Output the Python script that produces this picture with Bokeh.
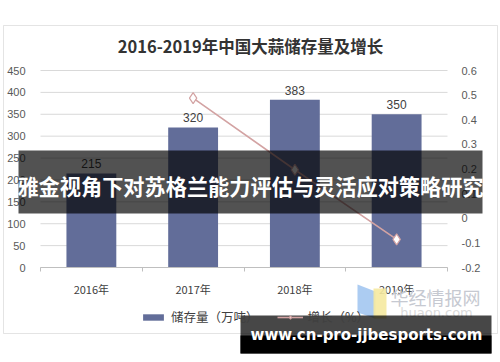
from bokeh.plotting import figure
from bokeh.models import (Range1d, LinearAxis, FixedTicker, Label, BoxAnnotation,
                          PolyAnnotation, Legend, LegendItem, ColumnDataSource)
from bokeh.embed import file_html
from bokeh.resources import INLINE

# ---- data ----
years = ["2016年", "2017年", "2018年", "2019年"]
storage = [215, 320, 383, 350]          # 储存量（万吨）
growth_years = ["2017年", "2018年", "2019年"]
growth = [0.488, 0.197, -0.086]         # 增长（%）
left_ticks = [0, 50, 100, 150, 200, 250, 300, 350, 400, 450]
right_ticks = [-0.2, -0.1, 0, 0.1, 0.2, 0.3, 0.4, 0.5, 0.6]
title_text = "2016-2019年中国大蒜储存量及增长"
banner_text = "雅金视角下对苏格兰能力评估与灵活应对策略研究"
watermark_text = "www.cn-pro-jjbesports.com"

xpos = [i + 0.5 for i in range(len(years))]
gpos = [years.index(y) + 0.5 for y in growth_years]

BAR = "#626d99"
LINE = "#d3a3a3"
TXT = "#595959"

W, H = 500, 362
# plot area in canvas pixels (top-left origin)
PL, PR, PT, PB = 40, 447, 70, 267
nx = len(years)
ymin, ymax = left_ticks[0], left_ticks[-1]
gmin, gmax = right_ticks[0], right_ticks[-1]
sx = (PR - PL) / nx
sy = (PB - PT) / (ymax - ymin)
sg = (PB - PT) / (gmax - gmin)

p = figure(width=W, height=H, output_backend="svg", toolbar_location=None,
           x_range=Range1d(-PL / sx, nx + (W - PR) / sx),
           y_range=Range1d(ymin - (H - PB) / sy, ymax + PT / sy),
           min_border=0, background_fill_color="white", border_fill_color="white")
p.outline_line_color = None
p.xgrid.visible = False
p.ygrid.visible = False
p.extra_y_ranges = {"g": Range1d(gmin - (H - PB) / sg, gmax + PT / sg)}

# gridlines restricted to plot area
p.segment(x0=[0] * len(left_ticks), x1=[nx] * len(left_ticks), y0=left_ticks, y1=left_ticks,
          line_color="#d9d9d9", line_width=1)

# axes
p.yaxis.fixed_location = 0
p.yaxis.bounds = (ymin, ymax)
p.yaxis.ticker = FixedTicker(ticks=left_ticks)
p.yaxis.axis_line_color = None
p.yaxis.major_tick_line_color = None
p.yaxis.minor_tick_line_color = None
p.yaxis.major_label_standoff = 9
p.yaxis.major_label_text_font_size = "11px"
p.yaxis.major_label_text_color = TXT
p.yaxis.major_label_text_font = "Liberation Sans"

ra = LinearAxis(y_range_name="g", ticker=FixedTicker(ticks=right_ticks), fixed_location=nx,
                bounds=(gmin, gmax))
ra.major_label_overrides = {t: (str(round(t, 1)) if t != 0 else "0") for t in right_ticks}
ra.axis_line_color = None
ra.major_tick_line_color = None
ra.minor_tick_line_color = None
ra.major_label_standoff = 8
ra.major_label_text_font_size = "11px"
ra.major_label_text_color = TXT
ra.major_label_text_font = "Liberation Sans"
p.add_layout(ra, "right")

p.xaxis.fixed_location = 0
p.xaxis.bounds = (0, nx)
p.xaxis.ticker = FixedTicker(ticks=xpos, minor_ticks=list(range(nx + 1)))
p.xaxis.major_label_overrides = {x: y for x, y in zip(xpos, years)}
p.xaxis.axis_line_color = "#bfbfbf"
p.xaxis.major_tick_line_color = None
p.xaxis.minor_tick_line_color = "#bfbfbf"
p.xaxis.minor_tick_in = 0
p.xaxis.minor_tick_out = 4
p.xaxis.major_label_standoff = 7
p.xaxis.major_label_text_font_size = "11px"
p.xaxis.major_label_text_color = "#404040"
p.xaxis.major_label_text_font = "Noto Sans CJK SC"

# bars
src = ColumnDataSource(dict(x=xpos, v=storage, lbl=[str(v) for v in storage]))
bars = p.vbar(x="x", top="v", width=0.49, source=src, fill_color=BAR, line_color=None)
p.text(x="x", y="v", text="lbl", source=src, text_align="center", text_baseline="bottom",
       y_offset=-5, text_font_size="12px", text_color="#404040")

# growth line
gsrc = ColumnDataSource(dict(x=gpos, g=growth))
ln = p.line(x="x", y="g", source=gsrc, y_range_name="g", line_color=LINE, line_width=1.6)
mk = p.scatter(x="x", y="g", source=gsrc, y_range_name="g", marker="diamond", size=11,
               fill_color="white", line_color=LINE, line_width=1.2)

# screen coords (frame == canvas): X from left, Y from top -> bokeh y from bottom
def fx(X):
    return X

def fy(Y):
    return H - Y

# legend
legend = Legend(items=[LegendItem(label="储存量（万吨）", renderers=[bars]),
                       LegendItem(label="增长（%）", renderers=[ln, mk])],
                orientation="horizontal", location=(fx(140), fy(326)),
                padding=0, margin=0,
                label_text_font="Noto Sans CJK SC", label_text_font_size="12.5px",
                label_text_color="#404040", glyph_width=26, glyph_height=8,
                spacing=18, border_line_color=None, background_fill_alpha=0)
p.add_layout(legend, "center")

def box(l, r, t, b, **kw):
    return BoxAnnotation(left=fx(l), right=fx(r), top=fy(t), bottom=fy(b),
                         left_units="screen", right_units="screen", top_units="screen",
                         bottom_units="screen", **kw)

# outer border
p.add_layout(box(3, 497, 25, 333, fill_alpha=0, line_color="#a6a6a6", line_width=1,
                 level="underlay"))

# title
p.add_layout(Label(x=fx(250), y=fy(45), x_units="screen", y_units="screen", text=title_text,
                   text_align="center", text_baseline="middle", text_font="Noto Sans CJK SC",
                   text_font_style="bold", text_font_size="16.5px", text_color="#333333"))

# logo watermark
p.add_layout(PolyAnnotation(xs=[fx(357), fx(375), fx(375), fx(357)],
                            ys=[fy(284), fy(291), fy(318), fy(312)],
                            xs_units="screen", ys_units="screen",
                            fill_color="#9ec3f0", fill_alpha=0.85, line_color=None))
p.add_layout(box(373, 386, 288, 318, fill_color="#f5e9a0", fill_alpha=0.9, line_color=None))
p.add_layout(Label(x=fx(435), y=fy(296), x_units="screen", y_units="screen", text="华经情报网",
                   text_align="center", text_baseline="middle", text_font="Noto Sans CJK SC",
                   text_font_size="18px", text_color="#c6c9d1"))
p.add_layout(Label(x=fx(436), y=fy(312), x_units="screen", y_units="screen", text="huaon.com",
                   text_align="center", text_baseline="middle", text_font="DejaVu Sans",
                   text_font_size="13px", text_color="#dadada"))

# banner
p.add_layout(box(18, 482, 150, 213, fill_color="black", fill_alpha=0.68, line_color=None))
p.add_layout(Label(x=fx(250), y=fy(185), x_units="screen", y_units="screen", text=banner_text,
                   text_align="center", text_baseline="middle", text_font="Noto Sans CJK SC",
                   text_font_style="bold", text_font_size="21.2px", text_color="white"))

# bottom watermark band
p.add_layout(box(240, 491, 315, 353, fill_color="black", fill_alpha=0.72, line_color=None))
p.add_layout(box(240, 491, 335, 353, fill_color="black", fill_alpha=1, line_color=None))
p.add_layout(Label(x=fx(366), y=fy(334), x_units="screen", y_units="screen", text=watermark_text,
                   text_align="center", text_baseline="middle", text_font="DejaVu Sans",
                   text_font_style="bold", text_font_size="15px", text_color="white"))

open("out.html", "w").write(file_html(p, INLINE))
